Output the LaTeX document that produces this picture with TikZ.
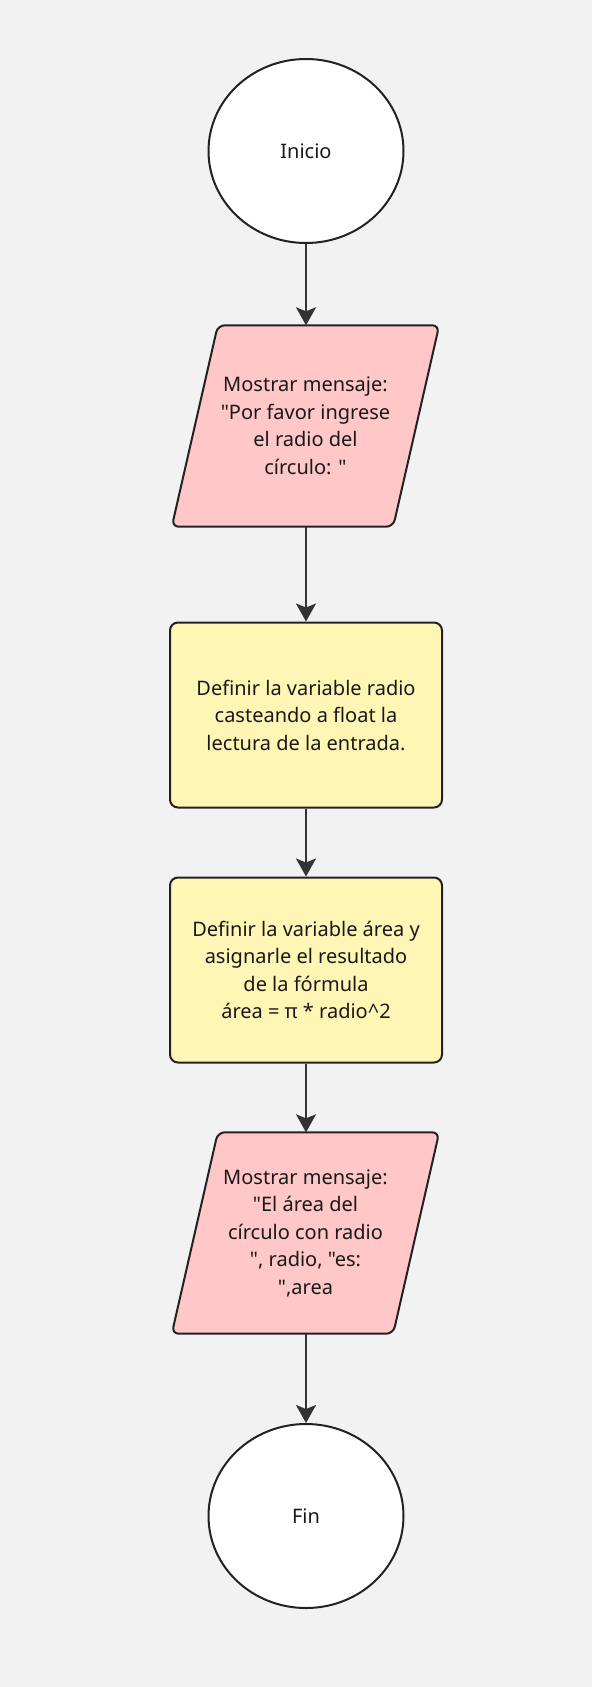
\documentclass[tikz,border=0pt]{standalone}
\usepackage{fontspec}
\newfontfamily\nsf{Noto Sans}
\usetikzlibrary{shapes.geometric,arrows.meta}
\definecolor{bgc}{HTML}{F2F2F2}
\definecolor{pinkc}{HTML}{FFC7C7}
\definecolor{yelc}{HTML}{FFF5B5}
\definecolor{strokec}{HTML}{222222}
\definecolor{arrc}{HTML}{333333}
\pgfdeclarelayer{back}
\pgfdeclarelayer{shapes}
\pgfsetlayers{back,shapes,main}
\begin{document}
\begin{tikzpicture}[x=1pt,y=-1pt,
  txt/.style={align=center,font=\nsf\fontsize{20}{27.5}\selectfont,text=black!90},
  term/.style={txt,ellipse,draw=strokec,line width=2pt,fill=white,minimum width=195pt,minimum height=184pt,inner sep=0pt},
  iobox/.style={txt,rectangle,minimum width=221pt,minimum height=201pt,inner sep=0pt},
  iodraw/.style={draw=strokec,line width=2pt,fill=pinkc,rounded corners=7pt},
  procbox/.style={txt,rectangle,draw=strokec,line width=2pt,fill=yelc,rounded corners=8pt,minimum width=272pt,minimum height=185pt,inner sep=0pt},
  arr/.style={draw=arrc,line width=2pt,-{Stealth[length=18pt,width=20pt,inset=4pt]}}]
\begin{pgfonlayer}{back}
\fill[bgc] (0,0) rectangle (592,1687);
\end{pgfonlayer}
\useasboundingbox (0,0) rectangle (592,1687);

\node[term] (inicio) at (306,151) {Inicio};

\node[iobox] (m1) at (305.5,426) {Mostrar mensaje:\\"Por favor ingrese\\el radio del\\círculo: "};
\begin{pgfonlayer}{shapes}
\draw[iodraw] ([xshift=23pt]m1.north west) -- ([xshift=23pt]m1.north east) -- ([xshift=-23pt]m1.south east) -- ([xshift=-23pt]m1.south west) -- cycle;
\end{pgfonlayer}

\node[procbox] (d1) at (306,715) {Definir la variable radio\\casteando a float la\\lectura de la entrada.};

\node[procbox] (d2) at (306,970) {Definir la variable área y\\asignarle el resultado\\de la fórmula\\área = π * radio\^{}2};

\node[iobox] (m2) at (305.5,1233) {Mostrar mensaje:\\"El área del\\círculo con radio\\", radio, "es:\\",area};
\begin{pgfonlayer}{shapes}
\draw[iodraw] ([xshift=23pt]m2.north west) -- ([xshift=23pt]m2.north east) -- ([xshift=-23pt]m2.south east) -- ([xshift=-23pt]m2.south west) -- cycle;
\end{pgfonlayer}

\node[term] (fin) at (306,1516) {Fin};

\draw[arr] (inicio.south) -- (inicio.south |- m1.north);
\draw[arr] (m1.south -| d1.north) -- (d1.north);
\draw[arr] (d1.south) -- (d2.north);
\draw[arr] (d2.south) -- (d2.south |- m2.north);
\draw[arr] (m2.south -| fin.north) -- (fin.north);
\end{tikzpicture}
\end{document}
